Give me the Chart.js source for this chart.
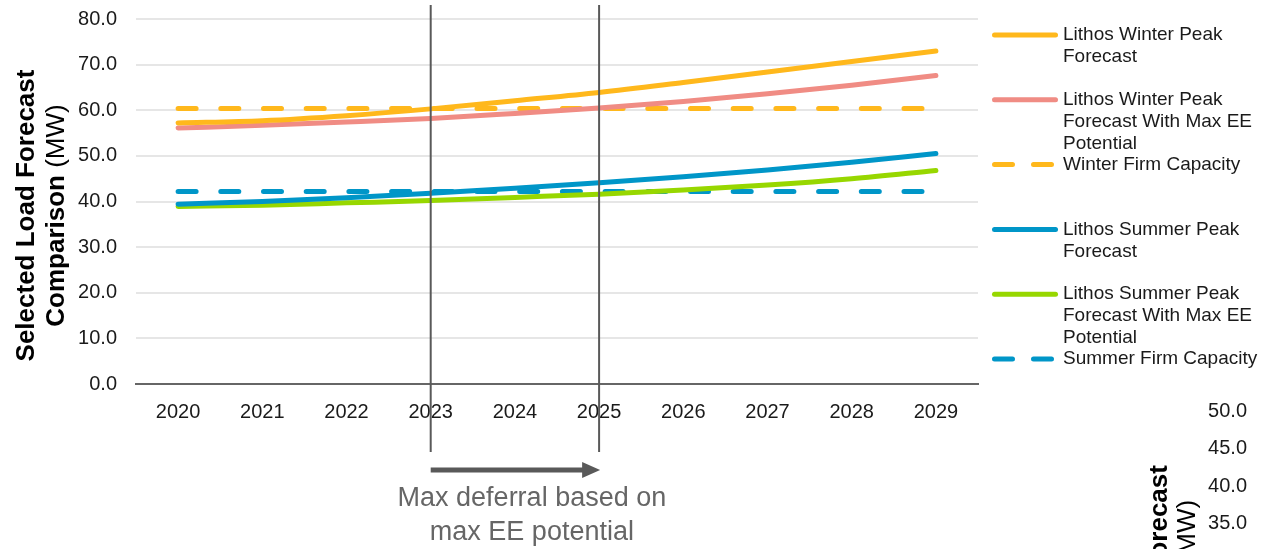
<!DOCTYPE html>
<html>
<head>
<meta charset="utf-8">
<script src="https://cdn.jsdelivr.net/npm/chart.js@4/dist/chart.umd.min.js"></script>
<style>
    html, body { margin: 0; padding: 0; background: #ffffff; overflow: hidden; }
    #wrap { position: relative; width: 1263px; height: 549px; overflow: hidden; }
    #main { position: absolute; left: 0; top: 0; width: 1263px; height: 549px; }
    #next { position: absolute; left: 1100px; top: 380px; width: 400px; height: 438px; }
</style>
</head>
<body>
<div id="wrap">
    <div id="main"><canvas id="chart"></canvas></div>
    <div id="next"><canvas id="chart2"></canvas></div>
</div>
<script>
// values (MW)
const years = ["2020", "2021", "2022", "2023", "2024", "2025", "2026", "2027", "2028", "2029"];
const winterPeak = [57.2, 57.7, 58.8, 60.3, 62.1, 63.9, 66.1, 68.4, 70.7, 73.0];
const winterPeakEE = [56.1, 56.7, 57.4, 58.2, 59.3, 60.5, 61.9, 63.6, 65.5, 67.6];
const winterFirm = [60.4, 60.4, 60.4, 60.4, 60.4, 60.4, 60.4, 60.4, 60.4, 60.4];
const summerPeak = [39.4, 40.0, 40.8, 41.8, 42.9, 44.1, 45.4, 46.9, 48.6, 50.5];
const summerPeakEE = [38.9, 39.2, 39.7, 40.2, 40.9, 41.6, 42.5, 43.6, 45.0, 46.8];
const summerFirm = [42.2, 42.2, 42.2, 42.2, 42.2, 42.2, 42.2, 42.2, 42.2, 42.2];

const seriesNames = [
    "Lithos Winter Peak Forecast",
    "Lithos Winter Peak Forecast With Max EE Potential",
    "Winter Firm Capacity",
    "Lithos Summer Peak Forecast",
    "Lithos Summer Peak Forecast With Max EE Potential",
    "Summer Firm Capacity"
];

const deferralFrom = "2023";
const deferralTo = "2025";
const deferralText = ["Max deferral based on", "max EE potential"];

const FONT = "'Liberation Sans', Arial, sans-serif";

function line(label, data, color, dashed)
{
    return {
        label: label,
        data: data,
        borderColor: color,
        backgroundColor: color,
        borderWidth: 5,
        borderCapStyle: "round",
        borderJoinStyle: "round",
        borderDash: dashed ? [18, 24.7] : [],
        pointRadius: 0,
        cubicInterpolationMode: "monotone",
        fill: false
    };
}

// rotated y title, bold + normal parts on one line
const axisTitlePlugin =
    {
        id: "axisTitle",
        afterDraw(chart, args, opts)
        {
            const ctx = chart.ctx;
            const area = chart.chartArea;
            const cy = (area.top + area.bottom) / 2 + opts.offsetY;
            ctx.save();
            ctx.fillStyle = "#000000";
            ctx.textBaseline = "middle";
            ctx.textAlign = "left";
            opts.lines.forEach((parts, i) =>
            {
                let total = 0;
                parts.forEach(p => { ctx.font = p.font; total += ctx.measureText(p.text).width; });
                ctx.save();
                ctx.translate(opts.x + i * opts.lineHeight, cy);
                ctx.rotate(-Math.PI / 2);
                let pos = -total / 2;
                parts.forEach(p =>
                {
                    ctx.font = p.font;
                    ctx.fillText(p.text, pos, 0);
                    pos += ctx.measureText(p.text).width;
                });
                ctx.restore();
            });
            ctx.restore();
        }
    };

const titleLines = [
    [{ text: "Selected Load Forecast", font: "bold 26px " + FONT }],
    [{ text: "Comparison ", font: "bold 26px " + FONT }, { text: "(MW)", font: "26px " + FONT }]
];

// legend on the right with wrapped labels
const sideLegendPlugin =
    {
        id: "sideLegend",
        afterDraw(chart, args, opts)
        {
            const ctx = chart.ctx;
            ctx.save();
            ctx.font = opts.fontSize + "px " + FONT;
            chart.data.datasets.forEach((ds, i) =>
            {
                const y = opts.top + i * opts.step;
                ctx.beginPath();
                ctx.strokeStyle = ds.borderColor;
                ctx.lineWidth = ds.borderWidth;
                ctx.lineCap = "round";
                ctx.setLineDash(ds.borderDash.length ? [18, 21] : []);
                ctx.moveTo(opts.x1 + 2.5, y);
                ctx.lineTo(opts.x2 - 2.5, y);
                ctx.stroke();
                ctx.setLineDash([]);

                // word wrap
                const words = ds.label.split(" ");
                const rows = [];
                let cur = "";
                words.forEach(w =>
                {
                    const test = cur ? cur + " " + w : w;
                    if (ctx.measureText(test).width > opts.maxWidth && cur)
                    {
                        rows.push(cur);
                        cur = w;
                    }
                    else
                    {
                        cur = test;
                    }
                });
                rows.push(cur);

                ctx.fillStyle = "#1a1a1a";
                ctx.textBaseline = "middle";
                ctx.textAlign = "left";
                rows.forEach((r, k) => ctx.fillText(r, opts.textX, y + k * opts.lineHeight));
            });
            ctx.restore();
        }
    };

// the two vertical markers, arrow and caption
const deferralPlugin =
    {
        id: "deferral",
        afterDraw(chart, args, opts)
        {
            const ctx = chart.ctx;
            const xs = chart.scales.x;
            const xa = xs.getPixelForValue(xs.getLabels().indexOf(opts.from));
            const xb = xs.getPixelForValue(xs.getLabels().indexOf(opts.to));
            ctx.save();
            ctx.strokeStyle = "#595959";
            ctx.fillStyle = "#595959";
            ctx.lineWidth = 2;
            [xa, xb].forEach(x =>
            {
                ctx.beginPath();
                ctx.moveTo(x, opts.lineTop);
                ctx.lineTo(x, opts.lineBottom);
                ctx.stroke();
            });

            ctx.lineWidth = 5;
            ctx.beginPath();
            ctx.moveTo(xa, opts.arrowY);
            ctx.lineTo(xb - 14, opts.arrowY);
            ctx.stroke();
            ctx.beginPath();
            ctx.moveTo(xb + 1, opts.arrowY);
            ctx.lineTo(xb - 17, opts.arrowY - 8);
            ctx.lineTo(xb - 17, opts.arrowY + 8);
            ctx.closePath();
            ctx.fill();

            ctx.fillStyle = "#666666";
            ctx.font = "27px " + FONT;
            ctx.textAlign = "center";
            ctx.textBaseline = "middle";
            const cx = (xa + xb) / 2 + 17;
            opts.text.forEach((t, i) => ctx.fillText(t, cx, opts.textY + i * 34));
            ctx.restore();
        }
    };

const ctx = document.getElementById("chart").getContext("2d");

const chart = new Chart(ctx,
    {
        type: "line",
        data:
            {
                labels: years,
                datasets: [
                    line(seriesNames[0], winterPeak, "#FFB81C", false),
                    line(seriesNames[1], winterPeakEE, "#F08C84", false),
                    line(seriesNames[2], winterFirm, "#FFB81C", true),
                    line(seriesNames[3], summerPeak, "#0096C8", false),
                    line(seriesNames[4], summerPeakEE, "#97D700", false),
                    line(seriesNames[5], summerFirm, "#0096C8", true)
                ]
            },
        options:
            {
                responsive: true,
                maintainAspectRatio: false,
                animation: false,
                layout: { padding: { top: 19, right: 285, bottom: 125, left: 0 } },
                scales:
                    {
                        x:
                            {
                                offset: true,
                                grid: { display: false },
                                border: { display: true, color: "#666666", width: 2 },
                                ticks: { color: "#1a1a1a", padding: 8, font: { family: FONT, size: 20 } },
                                afterFit: (s) => { s.height = 40; }
                            },
                        y:
                            {
                                min: 0,
                                max: 80,
                                grid: { color: "#E6E6E6", lineWidth: 2, drawTicks: false },
                                border: { display: false },
                                ticks:
                                    {
                                        stepSize: 10,
                                        color: "#1a1a1a",
                                        padding: 19,
                                        font: { family: FONT, size: 20 },
                                        callback: (v) => v.toFixed(1)
                                    },
                                afterFit: (s) =>
                                {
                                    s.width = 136;
                                    s.paddingTop = 0; // let the layout padding decide the top
                                }
                            }
                    },
                plugins:
                    {
                        legend: { display: false },
                        tooltip: { enabled: false },
                        axisTitle: { x: 27, lineHeight: 30, offsetY: 14, lines: titleLines },
                        sideLegend:
                            {
                                x1: 992, x2: 1058, textX: 1063, top: 35, step: 64.8,
                                lineHeight: 22, fontSize: 19, maxWidth: 200
                            },
                        deferral:
                            {
                                from: deferralFrom, to: deferralTo, lineTop: 5, lineBottom: 452,
                                arrowY: 470, textY: 499, text: deferralText
                            }
                    }
            },
        plugins: [axisTitlePlugin, sideLegendPlugin, deferralPlugin]
    });

// the next chart on the page, only its axis peeks in at the bottom right
const nextChart = new Chart(document.getElementById("chart2").getContext("2d"),
    {
        type: "line",
        data: { labels: years, datasets: [] },
        options:
            {
                responsive: true,
                maintainAspectRatio: false,
                animation: false,
                layout: { padding: { top: 29, right: 0, bottom: 18, left: 0 } },
                scales:
                    {
                        x: { display: false },
                        y:
                            {
                                min: 0,
                                max: 50,
                                grid: { display: false, drawTicks: false },
                                border: { display: false },
                                ticks:
                                    {
                                        stepSize: 5,
                                        color: "#1a1a1a",
                                        padding: 19,
                                        font: { family: FONT, size: 20 },
                                        callback: (v) => v.toFixed(1)
                                    },
                                afterFit: (s) => { s.width = 166; }
                            }
                    },
                plugins:
                    {
                        legend: { display: false },
                        tooltip: { enabled: false },
                        axisTitle: { x: 60, lineHeight: 28, offsetY: 12, lines: titleLines }
                    }
            },
        plugins: [axisTitlePlugin]
    });
</script>
</body>
</html>
